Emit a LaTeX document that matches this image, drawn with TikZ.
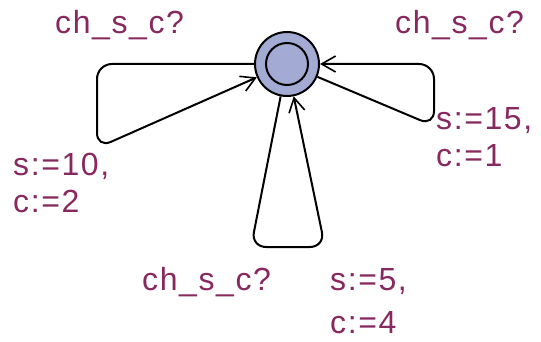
\documentclass[tikz,border=0pt]{standalone}
\usepackage{fontspec}
\setmainfont{Liberation Sans}[LetterSpace=5]
\usepackage{xcolor}
\usepackage{tikz}
\usetikzlibrary{arrows.meta}
\definecolor{locfill}{rgb}{0.64,0.67,0.83}
\definecolor{labelline}{rgb}{0.53,0.16,0.37}

\begin{document}
\begin{tikzpicture}[x=1pt,y=-1pt]
\tikzset{location/.style={circle, draw=black, line width=2pt, fill=locfill, minimum size=64pt, inner sep=0pt},
trans/.style={draw=black, line width=2pt, rounded corners=15pt, -{Straight Barb[length=14pt,width=16pt,line width=1.6pt]}},
lbl/.style={text=labelline, anchor=base west, inner sep=0pt, align=left}}
\fontsize{32pt}{37pt}
\selectfont
\useasboundingbox (0,0) rectangle (541,342);
\node (s0) at (287,64) [location] {};
\node (s0core) at (287,64) [circle, draw=black, line width=2pt, minimum size=42pt, inner sep=0pt] {};

\coordinate (l1) at (97,64);
\coordinate (l2) at (97,148);
\coordinate (r1) at (434,126);
\coordinate (r2) at (434,64);
\coordinate (b1) at (251,247);
\coordinate (b2) at (325,247);

\draw[trans] (s0.west) -- (l1) -- (l2) -- (s0);
\draw[trans] (s0) -- (r1) -- (r2) -- (s0.east);
\draw[trans] (s0) -- (b1) -- (b2) -- (s0);

\node (sync1) at (55,34) [lbl] {ch\_s\_c?};
\node (sync2) at (395,34) [lbl] {ch\_s\_c?};
\node (sync3) at (142,290) [lbl] {ch\_s\_c?};
\node (upd1) at (13,212) [lbl] {s:=10,\\c:=2};
\node (upd2) at (436,167) [lbl] {s:=15,\\c:=1};
\node (upd3) at (330,333) [lbl] {s:=5,\\[6pt]c:=4};
\end{tikzpicture}
\end{document}
